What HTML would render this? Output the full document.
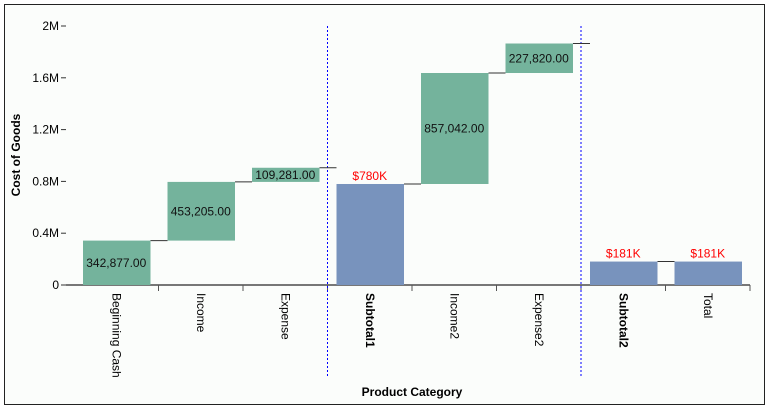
<!DOCTYPE html>
<html><head><meta charset="utf-8"><style>
body{margin:0;background:#fff;}
svg{display:block;font-family:"Liberation Sans",Arial,sans-serif;}
</style></head><body>
<svg id="chart" width="769" height="410">
<rect x="4.5" y="4.5" width="760" height="400" fill="#fbfdfb" stroke="#222"/>
<g id="grid"></g>
<g id="bars"></g>
<text x="20" y="155" transform="rotate(-90 20 155)" text-anchor="middle" font-size="12" font-weight="bold">Cost of Goods</text>
<text x="412" y="396" text-anchor="middle" font-size="12" font-weight="bold">Product Category</text>
</svg>
<script>
const categories=["Beginning Cash","Income","Expense","Subtotal1","Income2","Expense2","Subtotal2","Total"];
const values=[342877,453205,109281,780000,857042,227820,181000,181000];
const kinds=["delta","delta","delta","total","delta","delta","total","total"];
const labels=["342,877.00","453,205.00","109,281.00","$780K","857,042.00","227,820.00","$181K","$181K"];
const yTicks=[0,400000,800000,1200000,1600000,2000000];
const yTickLabels=["0","0.4M","0.8M","1.2M","1.6M","2M"];
const dividersAfter=[2,5];
const NS="http://www.w3.org/2000/svg";
const x0=74,bw=84.5,y0=285,yTop=26,yMax=2000000;
const Y=v=>y0-(v/yMax)*(y0-yTop);
const X=i=>x0+i*bw;
function mk(t,a,p){const e=document.createElementNS(NS,t);for(const k in a)e.setAttribute(k,a[k]);p.appendChild(e);return e;}
const g=document.getElementById('grid'),b=document.getElementById('bars');
yTicks.forEach((v,i)=>{
 const l=mk('line',{x1:61,x2:66,y1:Y(v),y2:Y(v),stroke:'#333'},g);
 
 
 const t=mk('text',{x:59,y:Y(v)+4,'text-anchor':'end','font-size':12},g);t.textContent=yTickLabels[i];
 
 
});
const base=mk('line',{x1:66,x2:750,y1:y0,y2:y0,stroke:'#777','stroke-width':2},g);


let run=0;const tops=[];
categories.forEach((c,i)=>{
 let lo,hi,col;
 if(kinds[i]==='total'){lo=0;hi=values[i];run=values[i];col='#7893bd';}
 else{lo=run;hi=run+values[i];run=hi;col='#74b39c';}
 tops.push(hi);
 const r=mk('rect',{x:X(i)+9,y:Y(hi),width:bw-17,height:Y(lo)-Y(hi),fill:col},b);
 
 
 const cx=X(i)+bw/2;
 const t=mk('text',{'text-anchor':'middle','font-size':12},b);
 if(kinds[i]==='total'){t.setAttribute('x',cx);t.setAttribute('y',Y(hi)-4);t.setAttribute('fill','#f00');}
 else{t.setAttribute('x',cx);t.setAttribute('y',(Y(lo)+Y(hi))/2+4);t.setAttribute('fill','#111');}
 t.textContent=labels[i];
 
 
 const tk=mk('line',{x1:X(i+1),x2:X(i+1),y1:y0,y2:y0+6,stroke:'#555'},g);
 
 
 const lbl=mk('text',{transform:`translate(${cx-4},293) rotate(90)`,'font-size':12,'font-weight':kinds[i]==='total'&&c.startsWith('Sub')?'bold':'normal'},g);
 lbl.textContent=c;
 
 
 if(i<categories.length-1){
  const cn=mk('line',{x1:X(i)+bw-8,x2:X(i+1)+9,y1:Y(hi),y2:Y(hi),stroke:'#333'},b);
  
  
 }
});
dividersAfter.forEach(i=>{
 const d=mk('line',{x1:X(i+1),x2:X(i+1),y1:26,y2:378,stroke:'#00f','stroke-dasharray':'2,2'},g);
 
 
});
</script>
</body></html>
